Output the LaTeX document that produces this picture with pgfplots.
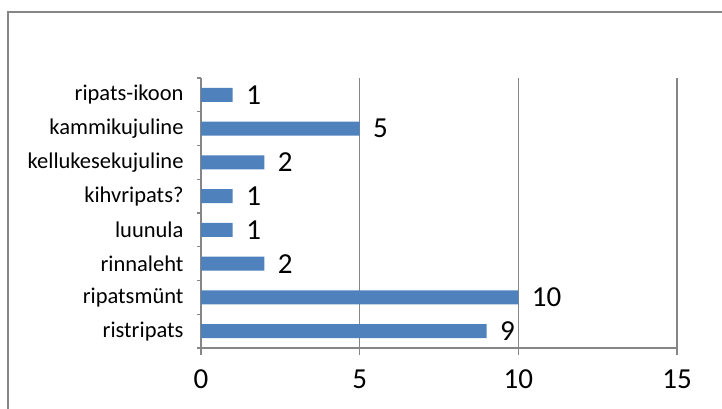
\documentclass[border=0pt]{standalone}
\usepackage{fontspec}
\setmainfont{Carlito}
\usepackage{pgfplots}
\pgfplotsset{compat=1.18}
\definecolor{barblue}{HTML}{4F81BD}
\definecolor{axgray}{HTML}{868686}
\pgfplotsset{/pgf/number format/assume math mode=true}

\begin{document}
\begin{tikzpicture}
\useasboundingbox (0,0) rectangle (722bp,409bp);
% chart area border (only left and top are visible)
\draw[axgray, line width=1.2bp] (8bp,0) -- (8bp,397bp) -- (722bp,397bp);
\begin{axis}[
  at={(201bp,61bp)}, anchor=south west,
  scale only axis, width=476bp, height=270bp,
  xbar, bar width=14bp,
  xmin=0, xmax=15, xtick={0,5,10,15},
  ymin=-0.5, ymax=7.5,
  ytick={0,...,7},
  yticklabels={ristripats,ripatsmünt,rinnaleht,luunula,kihvripats?,kellukesekujuline,kammikujuline,ripats-ikoon},
  minor ytick={-0.5,0.5,...,7.5},
  axis x line*=bottom, axis y line*=left,
  axis line style={axgray, line width=1.2bp},
  tick align=outside,
  major tick length=7bp, minor tick length=4bp,
  major y tick style={draw=none},
  minor y tick style={axgray, line width=1.2bp},
  major x tick style={axgray, line width=1.2bp},
  xmajorgrids, grid style={axgray, line width=1.2bp},
  xticklabel style={font=\fontsize{29bp}{32bp}\selectfont, yshift=-11bp},
  yticklabel style={font=\fontsize{22.5bp}{26bp}\selectfont, xshift=-7bp},
  nodes near coords,
  every node near coord/.append style={font=\fontsize{29bp}{32bp}\selectfont, black, xshift=10bp},
]
\addplot[draw=none, fill=barblue] coordinates {
  (9,0) (10,1) (2,2) (1,3) (1,4) (2,5) (5,6) (1,7)
};
\end{axis}
\end{tikzpicture}
\end{document}
